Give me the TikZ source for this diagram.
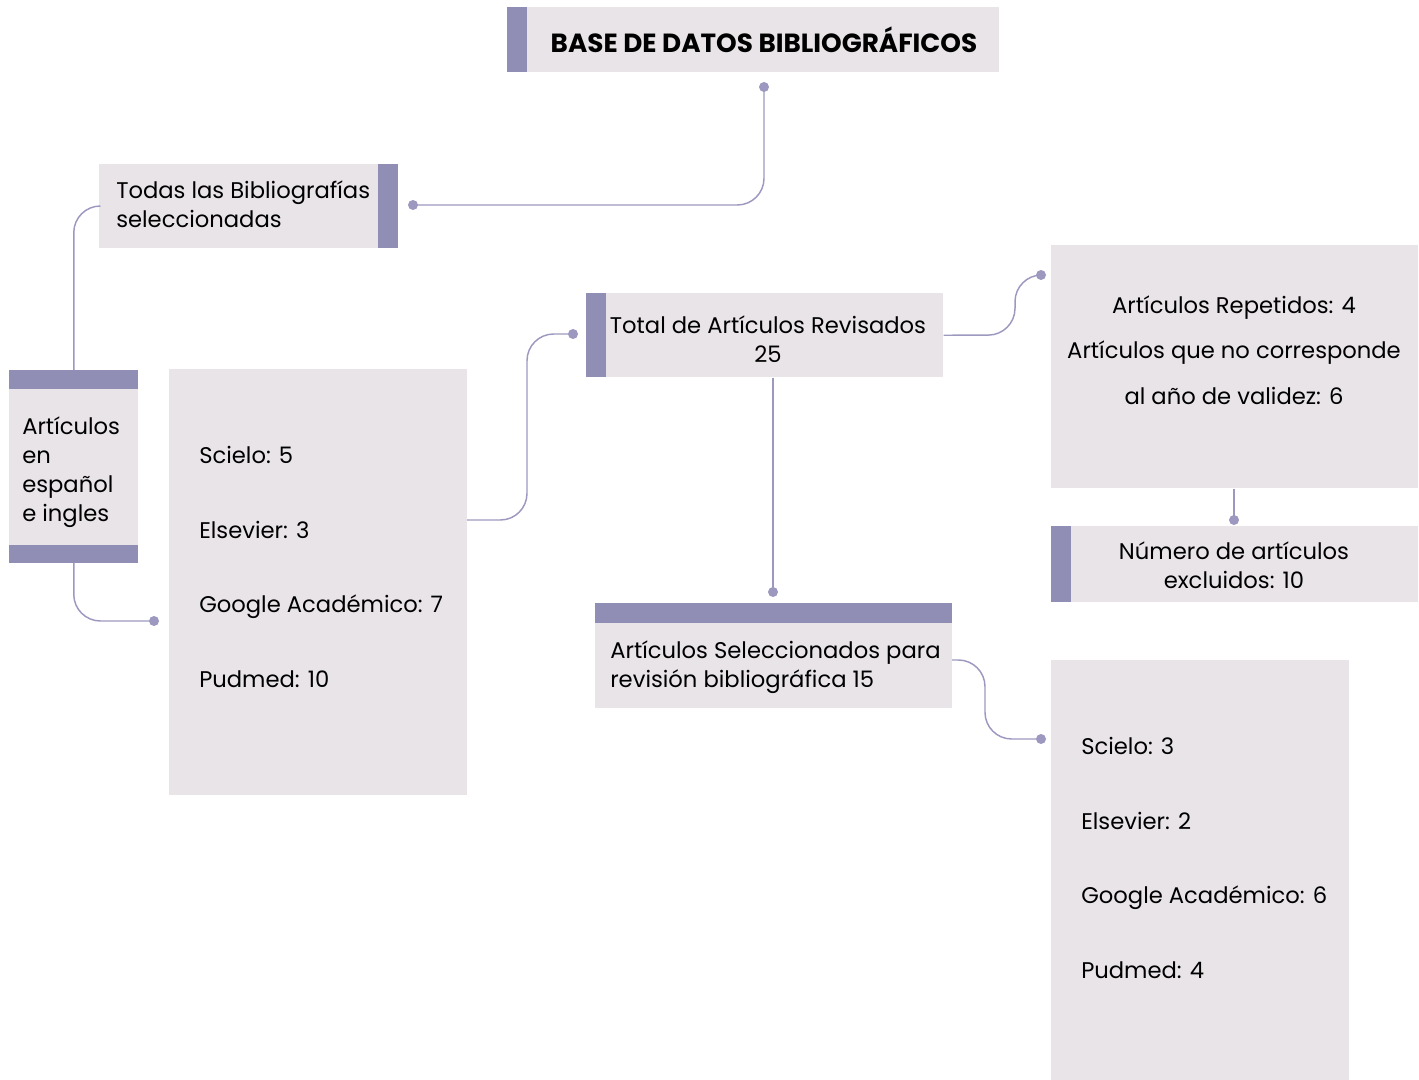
\documentclass[tikz,border=0pt]{standalone}
\usepackage{fontspec}
\setmainfont{Poppins}
\usetikzlibrary{calc}
\definecolor{boxfill}{HTML}{E8E4E8}
\definecolor{barcol}{HTML}{918EB5}
\definecolor{conn}{HTML}{9C98C0}
\begin{document}
\begin{tikzpicture}[x=0.75pt,y=-0.75pt,
  box/.style 2 args={draw=none,fill=boxfill,rectangle,inner sep=0pt,anchor=north west,minimum width=#1*0.75pt,minimum height=#2*0.75pt},
  txt/.style={inner sep=0pt,text=black,font=\fontsize{17}{21.75}\selectfont},
  link/.style={draw=conn,line width=1.1pt,rounded corners=20pt},
  dot/.style={fill=conn,draw=none,circle,inner sep=0pt,minimum size=7.5pt}
]
\useasboundingbox (0,0) rectangle (1419,1080);

% boxes
\node[box={492}{65}] (title) at (507,7) {};
\fill[barcol] (title.north west) rectangle ++(20,65);
\node[box={298}{84}] (todas) at (99,164) {};
\fill[barcol] (todas.north east) rectangle ++(-20,84);
\node[box={129}{192}] (art) at (9,370) {};
\fill[barcol] (art.north west) rectangle ++(129,19);
\fill[barcol] (art.south west) rectangle ++(129,-18);
\node[box={298}{426}] (fuentes) at (169,369) {};
\node[box={357}{84}] (total) at (586,293) {};
\fill[barcol] (total.north west) rectangle ++(20,84);
\node[box={367}{243}] (rep) at (1051,245) {};
\node[box={367}{76}] (excl) at (1051,526) {};
\fill[barcol] (excl.north west) rectangle ++(20,76);
\node[box={357}{105}] (sel) at (595,603) {};
\fill[barcol] (sel.north west) rectangle ++(357,20);
\node[box={298}{420}] (fuentes2) at (1051,660) {};

% texts
\node[txt,font=\bfseries\fontsize{19.7}{24}\selectfont] (titletxt) at (764,40) {BASE DE DATOS BIBLIOGRÁFICOS};
\node[txt,anchor=west,align=left] (todastxt) at (116,204) {Todas las Bibliografías\\seleccionadas};
\node[txt,anchor=west,align=left] (arttxt) at (22,472) {Artículos\\en\\español\\e ingles};
\node[txt,anchor=west,align=left,font=\fontsize{17}{56}\selectfont] (fuentestxt) at (199,567) {Scielo: 5\\Elsevier: 3\\Google Académico: 7\\Pudmed: 10};
\node[txt,align=center] (totaltxt) at (768,339) {Total de Artículos Revisados\\25};
\node[txt,align=center,font=\fontsize{17}{34}\selectfont] (reptxt) at (1234,350) {Artículos Repetidos: 4\\Artículos que no corresponde\\al año de validez: 6};
\node[txt,align=center] (excltxt) at (1234,565) {Número de artículos\\excluidos: 10};
\node[txt,anchor=west,align=left] (seltxt) at (610,667) {Artículos Seleccionados para\\revisión bibliográfica 15};
\node[txt,anchor=west,align=left,font=\fontsize{17}{56}\selectfont] (fuentes2txt) at (1081,858) {Scielo: 3\\Elsevier: 2\\Google Académico: 6\\Pudmed: 4};

% connector end points
\coordinate (c1) at (764,87);
\coordinate (c2) at (413,205);
\coordinate (c3) at (154,621);
\coordinate (c4s) at (467,520);
\coordinate (c4) at (573,334);
\coordinate (c5) at (1041,275);
\coordinate (c6) at (773,592);
\coordinate (c7) at (1234,520);
\coordinate (c8s) at (952,660);
\coordinate (c8) at (1041,739);

% connectors
\draw[link] (c1) |- (c2);
\draw[link] (todas.west |- 0,206) -| (art.north);
\draw[link] (art.south) |- (c3);
\draw[link] (c4s) -- (527,520) |- (c4);
\draw[link] (total.east) -- (1015,335) |- (c5);
\draw[link] (total.south -| c6) -- (c6);
\draw[link] (rep.south -| c7) -- (c7);
\draw[link] (c8s) -- (985,660) |- (c8);

\foreach \d in {c1,c2,c3,c4,c5,c6,c7,c8} \node[dot] at (\d) {};
\end{tikzpicture}
\end{document}
